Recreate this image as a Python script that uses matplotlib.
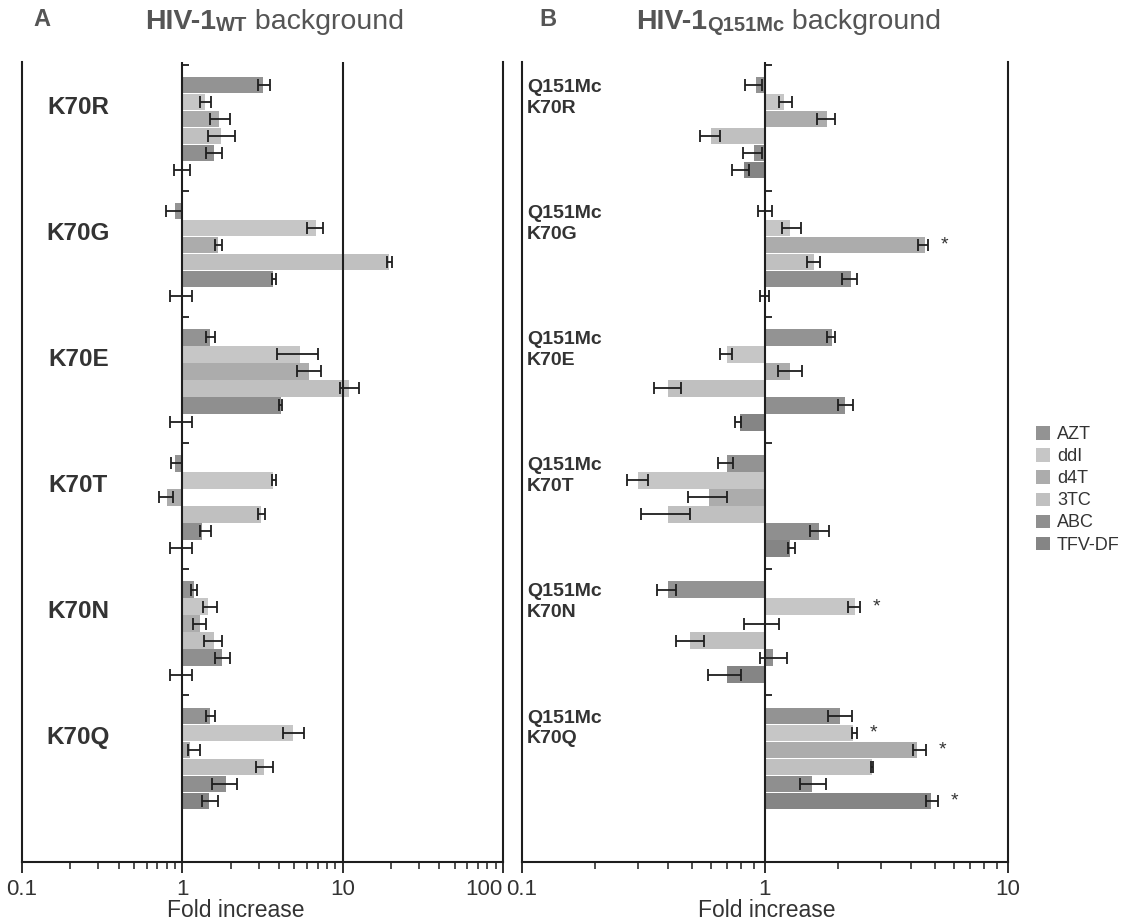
import matplotlib
matplotlib.use("Agg")
import matplotlib.pyplot as plt
from matplotlib.patches import Patch
from matplotlib.ticker import FixedLocator, NullFormatter

plt.rcParams['font.family'] = ['Liberation Sans', 'DejaVu Sans']

drugs = ["AZT", "ddI", "d4T", "3TC", "ABC", "TFV-DF"]
groups_a = ["K70R", "K70G", "K70E", "K70T", "K70N", "K70Q"]
groups_b = ["Q151Mc\nK70R", "Q151Mc\nK70G", "Q151Mc\nK70E",
            "Q151Mc\nK70T", "Q151Mc\nK70N", "Q151Mc\nK70Q"]

# panel A : HIV-1 WT background (rows = groups, cols = drugs)
vals_a = [[3.2, 1.38, 1.7, 1.75, 1.58, 1.0],
          [0.9, 6.8, 1.68, 19.5, 3.7, 1.0],
          [1.48, 5.4, 6.2, 10.9, 4.1, 1.0],
          [0.9, 3.7, 0.8, 3.1, 1.32, 1.0],
          [1.18, 1.45, 1.28, 1.58, 1.76, 1.0],
          [1.48, 4.9, 1.12, 3.25, 1.86, 1.46]]
lo_a = [[2.96, 1.28, 1.48, 1.44, 1.41, 0.89],
        [0.79, 6.0, 1.6, 19.0, 3.6, 0.84],
        [1.4, 3.9, 5.2, 9.6, 4.0, 0.84],
        [0.85, 3.6, 0.72, 2.95, 1.28, 0.84],
        [1.13, 1.34, 1.16, 1.37, 1.59, 0.84],
        [1.4, 4.25, 1.09, 2.88, 1.54, 1.32]]
hi_a = [[3.5, 1.52, 1.97, 2.13, 1.78, 1.12],
        [0.99, 7.5, 1.78, 20.3, 3.85, 1.15],
        [1.61, 7.0, 7.3, 12.6, 4.2, 1.15],
        [0.99, 3.85, 0.87, 3.3, 1.52, 1.15],
        [1.24, 1.64, 1.41, 1.78, 1.97, 1.15],
        [1.59, 5.7, 1.28, 3.68, 2.2, 1.66]]

# panel B : HIV-1 Q151Mc background
vals_b = [[0.92, 1.2, 1.8, 0.6, 0.9, 0.82],
          [1.0, 1.27, 4.55, 1.59, 2.26, 1.0],
          [1.88, 0.70, 1.27, 0.40, 2.13, 0.79],
          [0.70, 0.30, 0.59, 0.40, 1.67, 1.27],
          [0.40, 2.35, 1.0, 0.49, 1.08, 0.70],
          [2.03, 2.3, 4.22, 2.76, 1.56, 4.8]]
lo_b = [[0.83, 1.14, 1.64, 0.54, 0.81, 0.73],
        [0.94, 1.17, 4.26, 1.49, 2.07, 0.95],
        [1.8, 0.65, 1.13, 0.35, 2.0, 0.75],
        [0.64, 0.27, 0.48, 0.31, 1.53, 1.24],
        [0.36, 2.2, 0.82, 0.43, 0.95, 0.58],
        [1.81, 2.28, 4.06, 2.74, 1.39, 4.6]]
hi_b = [[0.97, 1.29, 1.94, 0.65, 0.97, 0.86],
        [1.07, 1.41, 4.69, 1.68, 2.4, 1.04],
        [1.94, 0.73, 1.42, 0.45, 2.3, 0.8],
        [0.74, 0.33, 0.70, 0.49, 1.83, 1.33],
        [0.43, 2.46, 1.14, 0.56, 1.23, 0.80],
        [2.28, 2.39, 4.6, 2.78, 1.78, 5.15]]
stars_b = [(1, 2), (4, 1), (5, 1), (5, 2), (5, 5)]

colors = ["#939393", "#c6c6c6", "#acacac", "#c0c0c0", "#8f8f8f", "#858585"]
txt = "#333333"
line = "#1e1e1e"

P = 7.42  # group period in rows


def draw_panel(ax, vals, lo, hi, xmax, ticks, labels):
    for g in range(6):
        for j in range(6):
            y = g * P + j
            v = vals[g][j]
            ax.barh(y, v - 1, left=1, height=0.97, color=colors[j],
                    edgecolor="none", zorder=2)
            ax.errorbar(v, y, xerr=[[v - lo[g][j]], [hi[g][j] - v]],
                        fmt="none", ecolor=line, elinewidth=1.3,
                        capsize=4.5, capthick=1.3, zorder=3)
        # small separator tick on the x=1 line
        ax.plot(1, g * P - 1.2, marker=1, ms=5, mew=1.3, color=line,
                zorder=4)
    ax.axvline(1, color=line, lw=1.5, zorder=4)
    ax.set_xscale("log")
    ax.set_xlim(0.1, xmax)
    ax.set_ylim(5 * P + 5 + 3.6, -1.35)
    ax.set_yticks([])
    ax.spines["top"].set_visible(False)
    for s in ["left", "right", "bottom"]:
        ax.spines[s].set_color(line)
        ax.spines[s].set_linewidth(1.5)
    ax.xaxis.set_major_locator(FixedLocator(ticks))
    ax.set_xticklabels(labels)
    ax.xaxis.set_minor_formatter(NullFormatter())
    ax.tick_params(axis="x", which="major", direction="out", length=8,
                   width=1.3, color=line, labelsize=16, labelcolor=txt,
                   pad=4)
    ax.tick_params(axis="x", which="minor", direction="out", length=5,
                   width=1.1, color=line)


fig = plt.figure(figsize=(11.27, 9.23), dpi=100)
axA = fig.add_axes([22 / 1127, 61 / 923, 481 / 1127, 800 / 923])
axB = fig.add_axes([522 / 1127, 61 / 923, 486 / 1127, 800 / 923])

draw_panel(axA, vals_a, lo_a, hi_a, 100, [0.1, 1, 10, 100],
           ["0.1", "1", "10", "100"])
axA.axvline(10, color=line, lw=1.5, zorder=4)
axA.get_xticklabels()[-1].set_ha("right")
draw_panel(axB, vals_b, lo_b, hi_b, 10, [0.1, 1, 10], ["0.1", "1", "10"])

for g, j in stars_b:
    axB.annotate("*", xy=(hi_b[g][j], g * P + j), xytext=(9, 0),
                 textcoords="offset points", ha="left", va="center",
                 fontsize=14, color=txt)

for g, name in enumerate(groups_a):
    axA.text(0.117, g * P + 1.3, name, transform=axA.get_yaxis_transform(),
             ha="center", va="center", fontsize=17.5, fontweight="bold",
             color=txt)
for g, name in enumerate(groups_b):
    axB.text(0.01, g * P + 0.75, name, transform=axB.get_yaxis_transform(),
             ha="left", va="center", fontsize=14, fontweight="bold",
             color=txt, linespacing=1.3)

for ax, xc in [(axA, 0.445), (axB, 0.504)]:
    ax.text(xc, -0.061, "Fold increase", transform=ax.transAxes,
            ha="center", va="center", fontsize=16.5, color=txt)


# panel titles
def title(x_letter, x_title, letter, sub):
    fig.text(x_letter / 1127, 1 - 20 / 923, letter, ha="center",
             va="center", fontsize=17, fontweight="bold", color="#555555")
    t1 = fig.text(x_title / 1127, 1 - 29 / 923, "HIV-1", ha="left",
                  va="baseline", fontsize=20.5, fontweight="bold",
                  color="#555555")
    t2 = axA.annotate(sub, xy=(1, 0), xycoords=t1, ha="left", va="bottom",
                      fontsize=14.5, fontweight="bold", color="#555555",
                      annotation_clip=False)
    axA.annotate(" background", xy=(1, 0), xycoords=(t2, t1), ha="left",
                 va="bottom", fontsize=20.5, color="#555555",
                 annotation_clip=False)


title(42, 145, "A", "WT")
title(548, 636, "B", "Q151Mc")

handles = [Patch(facecolor=c, edgecolor="none") for c in colors]
fig.legend(handles, drugs, loc="upper left",
           bbox_to_anchor=(1020 / 1127, 1 - 410 / 923), frameon=False,
           fontsize=13, handlelength=0.75, handleheight=0.75,
           handletextpad=0.4, labelspacing=0.28, labelcolor=txt)

fig.savefig("out.png", dpi=100)
